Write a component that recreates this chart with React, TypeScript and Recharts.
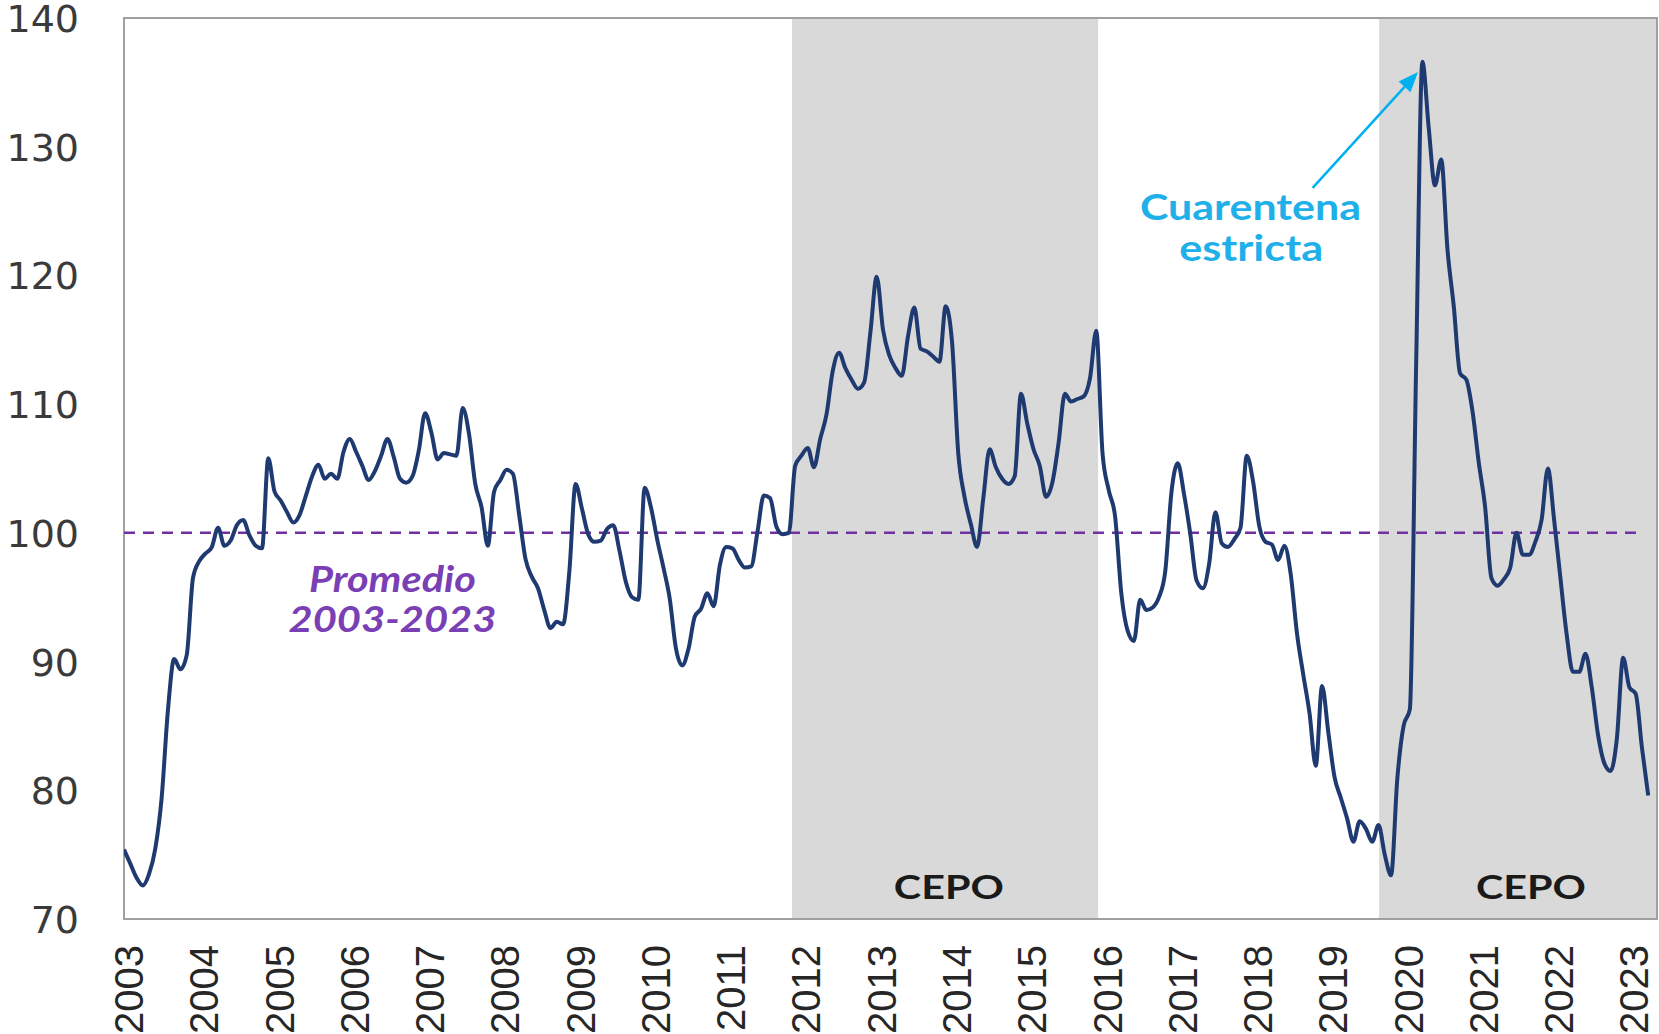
import React from 'react';
import {
  LineChart,
  Line,
  XAxis,
  YAxis,
  ReferenceArea,
  ReferenceLine,
  ReferenceDot,
} from 'recharts';

// tipo de cambio real, base promedio 2003-2023 = 100, mensual ene-2003 .. abr-2023
const tcr = [
  // 2003
  75.4, 74.3, 73.2, 72.6, 73.5, 75.5, 79.4, 86.2, 90.2, 89.4, 90.5, 96.5,
  // 2004
  97.8, 98.4, 98.9, 100.4, 99.0, 99.4, 100.6, 101.0, 99.8, 99.0, 98.8, 105.8,
  // 2005
  103.2, 102.5, 101.6, 100.8, 101.4, 102.9, 104.4, 105.3, 104.2, 104.6, 104.2, 106.3,
  // 2006
  107.3, 106.3, 105.2, 104.1, 104.8, 106.0, 107.3, 105.9, 104.2, 103.9, 104.4, 106.4,
  // 2007
  109.3, 107.8, 105.7, 106.2, 106.1, 106.0, 109.7, 107.7, 103.8, 102.0, 99.0, 103.2,
  // 2008
  104.1, 104.9, 104.6, 101.4, 98.0, 96.6, 95.7, 94.0, 92.6, 93.1, 92.9, 97.0,
  // 2009
  103.8, 101.9, 99.9, 99.3, 99.4, 100.3, 100.6, 98.6, 96.2, 95.0, 94.8, 103.5,
  // 2010
  102.0, 99.5, 97.3, 94.9, 91.0, 89.7, 91.0, 93.5, 94.1, 95.3, 94.3, 97.5,
  // 2011
  98.9, 98.8, 97.9, 97.3, 97.4, 100.1, 102.9, 102.7, 100.5, 99.9, 100.0, 105.2,
  // 2012
  106.0, 106.6, 105.1, 107.3, 109.2, 112.6, 114.0, 112.8, 111.9, 111.2, 111.7, 115.6,
  // 2013
  119.9, 115.8, 113.8, 112.8, 112.2, 115.3, 117.5, 114.3, 114.1, 113.7, 113.3, 117.6,
  // 2014
  114.9, 106.2, 102.8, 100.7, 98.9, 102.7, 106.5, 105.1, 104.2, 103.8, 104.4, 110.8,
  // 2015
  108.5, 106.5, 105.2, 102.8, 103.9, 107.0, 110.8, 110.2, 110.4, 110.6, 112.0, 115.7,
  // 2016
  106.2, 103.3, 101.3, 95.3, 92.4, 91.6, 94.8, 94.0, 94.2, 95.0, 97.0, 103.2,
  // 2017
  105.4, 103.0, 99.9, 96.3, 95.7, 97.6, 101.6, 99.2, 98.9, 99.5, 100.4, 106.0,
  // 2018
  104.0, 100.5, 99.3, 99.1, 97.9, 99.0, 96.8, 92.2, 89.0, 86.0, 81.9, 88.1,
  // 2019
  84.5, 81.0, 79.4, 77.8, 76.0, 77.6, 77.0, 76.0, 77.3, 75.0, 73.4, 80.9,
  // 2020
  85.0, 86.3, 113.0, 136.6, 131.5, 127.0, 129.0, 122.0, 117.6, 112.4, 111.9, 109.4,
  // 2021
  105.4, 102.0, 96.5, 95.9, 96.4, 97.3, 100.0, 98.3, 98.3, 99.3, 101.0, 105.0,
  // 2022
  101.0, 96.5, 92.1, 89.2, 89.2, 90.6, 88.0, 84.3, 82.1, 81.5, 84.0, 90.3,
  // 2023
  88.0, 87.5, 83.3, 79.6,
];

const anios = [
  '2003', '2004', '2005', '2006', '2007', '2008', '2009', '2010', '2011', '2012', '2013',
  '2014', '2015', '2016', '2017', '2018', '2019', '2020', '2021', '2022', '2023',
];

const yTicks = [70, 80, 90, 100, 110, 120, 130, 140];

const promedio = 100;

// periodos de cepo, en meses desde ene-2003
const cepo = [
  { desde: 106.5, hasta: 155.3 },
  { desde: 200.1, hasta: 244.4 },
];

const X_MAX = 244.4;

const data = tcr.map((v, i) => ({ mes: i, tcr: v }));
const xTicks = anios.map((_, i) => i * 12);

const YTick = (props: any) => {
  const { x, y, payload } = props;
  return (
    <text
      x={x - 45}
      y={y + 1}
      textAnchor="end"
      dominantBaseline="central"
      fontFamily="DejaVu Sans"
      fontSize={38}
      fill="#3a3a3a"
    >
      {payload.value}
    </text>
  );
};

const XTick = (props: any) => {
  const { x, y, payload } = props;
  const label = anios[Math.round(payload.value / 12)];
  return (
    <text
      transform={`translate(${x + 5},${y + 26}) rotate(-90)`}
      textAnchor="end"
      dominantBaseline="central"
      fontFamily="Liberation Sans, Arial"
      fontSize={40}
      fill="#262626"
    >
      {label}
    </text>
  );
};

const nota = (text: string, opts: any) => (p: any) => (
  <text
    x={p.cx}
    y={p.cy}
    textAnchor="middle"
    dominantBaseline="central"
    fontFamily="Lato"
    fontWeight={700}
    fontStyle={opts.italic ? 'italic' : 'normal'}
    fontSize={opts.size}
    fill={opts.color}
    textLength={opts.width}
    lengthAdjust="spacingAndGlyphs"
  >
    {text}
  </text>
);

const Flecha = (p: any) => {
  const { x1, y1, x2, y2 } = p;
  const ang = Math.atan2(y2 - y1, x2 - x1);
  const L = 20;
  const W = 8;
  const bx = x2 - L * Math.cos(ang);
  const by = y2 - L * Math.sin(ang);
  const pts = [
    `${x2},${y2}`,
    `${bx + W * Math.sin(ang)},${by - W * Math.cos(ang)}`,
    `${bx - W * Math.sin(ang)},${by + W * Math.cos(ang)}`,
  ].join(' ');
  return (
    <g>
      <line x1={x1} y1={y1} x2={bx} y2={by} stroke="#00b0f0" strokeWidth={2.5} />
      <polygon points={pts} fill="#00b0f0" />
    </g>
  );
};

export default function App() {
  return (
    <div style={{ position: 'fixed', left: 0, top: 0, width: 1659, height: 1034, background: '#fff' }}>
      <LineChart width={1659} height={1034} data={data} margin={{ top: 18, right: 2, bottom: 0, left: 0 }}>
        <XAxis
          dataKey="mes"
          type="number"
          domain={[0, X_MAX]}
          ticks={xTicks}
          interval={0}
          tick={(p: any) => <XTick {...p} />}
          tickSize={0}
          tickMargin={0}
          axisLine={false}
          tickLine={false}
          height={115}
          allowDataOverflow
        />
        <YAxis
          type="number"
          domain={[70, 140]}
          ticks={yTicks}
          interval={0}
          tick={(p: any) => <YTick {...p} />}
          tickSize={0}
          tickMargin={0}
          axisLine={false}
          tickLine={false}
          width={124}
          allowDataOverflow
        />
        {cepo.map((c) => (
          <ReferenceArea
            key={c.desde}
            x1={c.desde}
            x2={c.hasta}
            y1={70}
            y2={140}
            fill="#d9d9d9"
            fillOpacity={1}
            stroke="none"
          />
        ))}
        <ReferenceArea x1={0} x2={X_MAX} y1={70} y2={140} fill="none" stroke="#a0a0a0" strokeWidth={2} />
        <ReferenceLine
          segment={[{ x: 0, y: promedio }, { x: 241.5, y: promedio }]}
          stroke="#7030a0"
          strokeWidth={2.5}
          strokeDasharray="11 8"
        />
        <Line
          type="monotone"
          dataKey="tcr"
          stroke="#1f3a70"
          strokeWidth={4}
          dot={false}
          activeDot={false}
          isAnimationActive={false}
        />
        <ReferenceLine segment={[{ x: 189.5, y: 126.8 }, { x: 206.3, y: 135.8 }]} shape={Flecha} />
        <ReferenceDot x={42.8} y={96.5} r={0} shape={nota('Promedio', { italic: true, size: 36, color: '#7b3fb5', width: 167 })} />
        <ReferenceDot x={42.8} y={93.4} r={0} shape={nota('2003-2023', { italic: true, size: 36, color: '#7b3fb5', width: 208 })} />
        <ReferenceDot x={179.6} y={125.4} r={0} shape={nota('Cuarentena', { size: 36, color: '#1fb0ea', width: 221 })} />
        <ReferenceDot x={179.7} y={122.2} r={0} shape={nota('estricta', { size: 36, color: '#1fb0ea', width: 144 })} />
        <ReferenceDot x={131.5} y={72.6} r={0} shape={nota('CEPO', { size: 33, color: '#1a1a1a', width: 110 })} />
        <ReferenceDot x={224.3} y={72.6} r={0} shape={nota('CEPO', { size: 33, color: '#1a1a1a', width: 110 })} />
      </LineChart>
    </div>
  );
}
